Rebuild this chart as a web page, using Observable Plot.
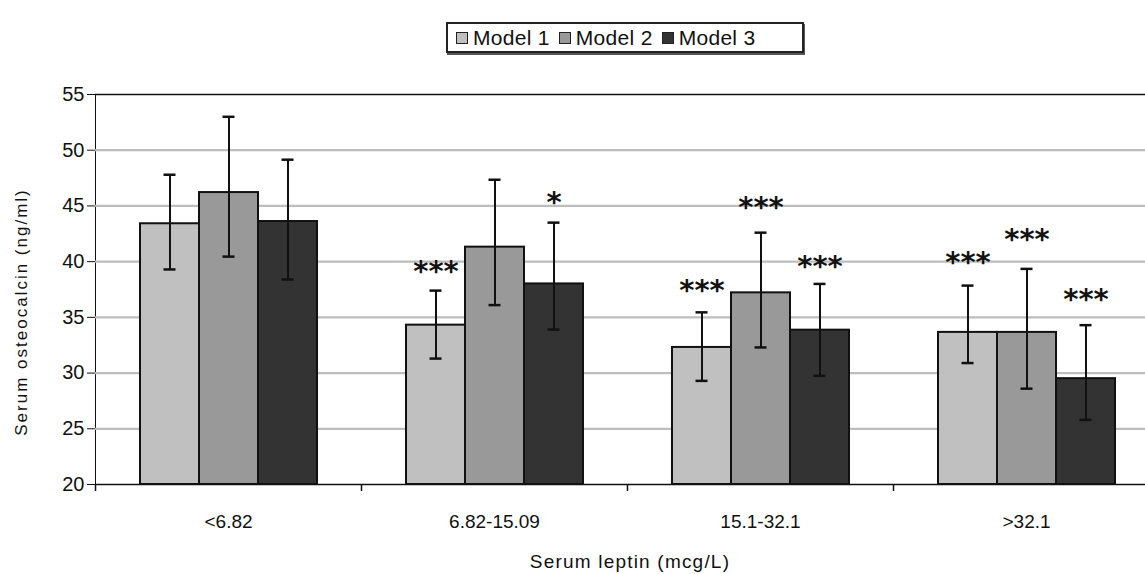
<!DOCTYPE html>
<html><head><meta charset="utf-8">
<script src="https://cdn.jsdelivr.net/npm/d3@7"></script>
<script src="https://cdn.jsdelivr.net/npm/@observablehq/plot@0.6"></script>
<style>
body{margin:0;background:#fff;font-family:"Liberation Sans",Arial,sans-serif;color:#111;}
#wrap{position:relative;width:1145px;height:574px;overflow:hidden;background:#fff;}
#legend{position:relative;height:70px;}
#lbox{position:absolute;left:446px;top:22px;width:358px;height:31px;box-sizing:border-box;border:2px solid #222;box-shadow:1px 2px 0 #555;display:flex;align-items:center;padding-left:8px;font-size:21px;letter-spacing:0.3px;}
.item{display:flex;align-items:center;margin-right:9px;}
.sw{width:10px;height:10px;border:1.5px solid #222;margin-right:5px;}
#chart svg{display:block;}
#ylab{position:absolute;left:-128px;top:300px;width:300px;height:24px;line-height:24px;text-align:center;transform:rotate(-90deg);font-size:17px;letter-spacing:2px;}
#xlab{position:absolute;left:430px;top:551px;width:400px;height:21px;line-height:21px;text-align:center;font-size:19px;letter-spacing:1.2px;}
</style>
</head><body>
<div id="wrap">
<div id="legend"><div id="lbox"></div></div>
<div id="chart"></div>
<div id="ylab">Serum osteocalcin (ng/ml)</div>
<div id="xlab">Serum leptin (mcg/L)</div>
</div>
<script>
const categories = ["<6.82", "6.82-15.09", "15.1-32.1", ">32.1"];
const models = ["Model 1", "Model 2", "Model 3"];
const colors = ["#c0c0c0", "#999999", "#333333"];
const yTicks = [20, 25, 30, 35, 40, 45, 50, 55];
const yGrid = [25, 30, 35, 40, 45, 50];

const model1Mean = [43.4, 34.3, 32.3, 33.65];
const model2Mean = [46.2, 41.3, 37.2, 33.65];
const model3Mean = [43.6, 38.0, 33.85, 29.5];

const model1Upper = [47.8, 37.4, 35.45, 37.85];
const model2Upper = [53.0, 47.35, 42.6, 39.35];
const model3Upper = [49.15, 43.5, 38.0, 34.3];

const model1Lower = [39.3, 31.3, 29.3, 30.9];
const model2Lower = [40.45, 36.1, 32.3, 28.6];
const model3Lower = [38.4, 33.9, 29.75, 25.8];

const model1Stars = ["", "***", "***", "***"];
const model2Stars = ["", "", "***", "***"];
const model3Stars = ["", "*", "***", "***"];
const model1StarY = [null, 39.8, 38.15, 40.6];
const model2StarY = [null, null, 45.6, 42.65];
const model3StarY = [null, 46.0, 40.3, 37.3];

const means = [model1Mean, model2Mean, model3Mean];
const uppers = [model1Upper, model2Upper, model3Upper];
const lowers = [model1Lower, model2Lower, model3Lower];
const stars = [model1Stars, model2Stars, model3Stars];
const starYs = [model1StarY, model2StarY, model3StarY];

const data = [];
categories.forEach((c, i) => models.forEach((m, j) => data.push({
  cat: c, model: m, mean: means[j][i], hi: uppers[j][i], lo: lowers[j][i],
  star: stars[j][i], starY: starYs[j][i]
})));

// legend
const lbox = document.getElementById("lbox");
models.forEach((m, j) => {
  const it = document.createElement("div"); it.className = "item";
  const sw = document.createElement("div"); sw.className = "sw"; sw.style.background = colors[j];
  const tx = document.createElement("span"); tx.textContent = m;
  it.appendChild(sw); it.appendChild(tx); lbox.appendChild(it);
});

const chart = Plot.plot({
  width: 1145, height: 474,
  marginLeft: 95, marginRight: -14, marginTop: 24, marginBottom: 60,
  style: {fontFamily: "'Liberation Sans', Arial, sans-serif", fontSize: "20px", color: "#111", background: "white"},
  fx: {domain: categories, padding: 0, label: null},
  x: {domain: models, paddingInner: 0, paddingOuter: 0.742, axis: null},
  y: {domain: [20, 55], ticks: yTicks, tickSize: 8, tickPadding: 3, line: true, label: null},
  color: {domain: models, range: colors},
  marks: [
    Plot.ruleY(yGrid, {stroke: "#bdbdbd", strokeWidth: 2.2}),
    Plot.ruleY([55, 20], {stroke: "#111", strokeWidth: 1.5}),
    Plot.barY(data, {fx: "cat", x: "model", y1: 20, y2: "mean", fill: "model", stroke: "#111", strokeWidth: 2}),
    Plot.ruleX(data, {fx: "cat", x: "model", y1: "lo", y2: "hi", stroke: "#111", strokeWidth: 2}),
    Plot.tickY(data, {fx: "cat", x: "model", y: "hi", insetLeft: 23.5, insetRight: 23.5, stroke: "#111", strokeWidth: 2.5}),
    Plot.tickY(data, {fx: "cat", x: "model", y: "lo", insetLeft: 23.5, insetRight: 23.5, stroke: "#111", strokeWidth: 2.5}),
    Plot.text(data.filter(d => d.star), {fx: "cat", x: "model", y: "starY", text: "star", fontSize: 29, fontWeight: "bold", fontFamily: "DejaVu Sans", fill: "#111", dy: 8}),
    Plot.axisFx({anchor: "bottom", tickSize: 0, tickPadding: 30, label: null, fontSize: 19}),
    Plot.axisFx({anchor: "bottom", tickSize: 7, tickFormat: () => "", dx: -133, label: null, strokeWidth: 1.5})
  ]
});
document.getElementById("chart").appendChild(chart);
</script>
</body></html>
